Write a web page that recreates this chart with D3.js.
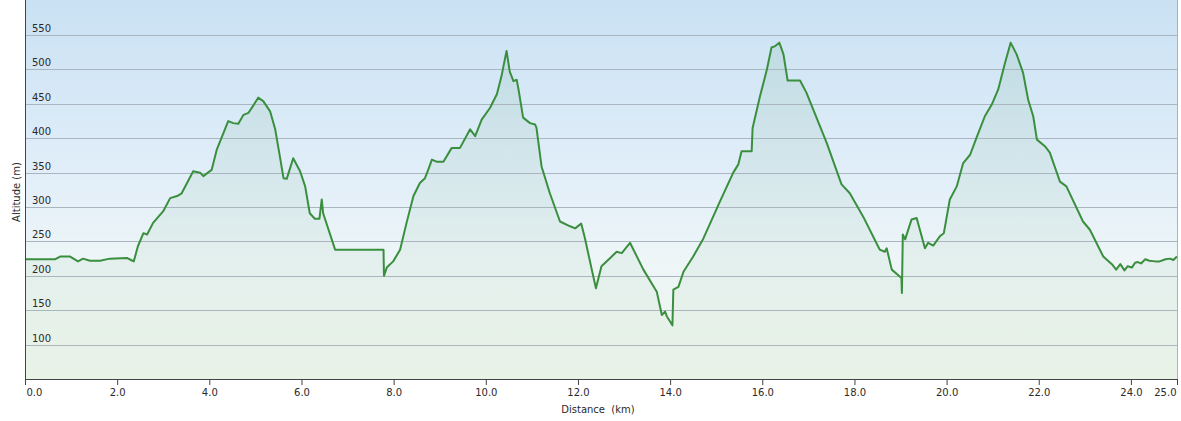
<!DOCTYPE html>
<html>
<head>
<meta charset="utf-8">
<script src="https://cdn.jsdelivr.net/npm/d3@7"></script>
<style>
  html, body { margin: 0; padding: 0; background: #ffffff; }
  svg { display: block; }
  text { font-family: "DejaVu Sans", Verdana, sans-serif; font-size: 10px; fill: #2a2a2a; }
</style>
</head>
<body>
<svg id="chart" width="1181" height="421"></svg>
<script>
// ---- data ----
const distKm = [
  0.00, 0.65, 0.76, 0.98, 1.15, 1.26, 1.41, 1.63, 1.84, 2.21, 2.30, 2.36,
  2.45, 2.57, 2.65, 2.78, 3.00, 3.15, 3.30, 3.40, 3.65, 3.80, 3.87, 4.05,
  4.16, 4.41, 4.52, 4.63, 4.74, 4.85, 4.95, 5.06, 5.17, 5.32, 5.43, 5.53,
  5.61, 5.68, 5.82, 5.97, 6.08, 6.18, 6.29, 6.39, 6.44, 6.47, 6.73, 7.78,
  7.79, 7.85, 7.99, 8.14, 8.28, 8.43, 8.57, 8.68, 8.75, 8.83, 8.93, 9.08,
  9.26, 9.44, 9.66, 9.77, 9.91, 10.09, 10.24, 10.34, 10.45, 10.52, 10.60, 10.67,
  10.71, 10.81, 10.96, 11.07, 11.10, 11.21, 11.39, 11.61, 11.83, 11.94, 12.07, 12.15,
  12.30, 12.39, 12.51, 12.70, 12.84, 12.95, 13.13, 13.42, 13.71, 13.82, 13.89, 13.93,
  14.05, 14.07, 14.18, 14.29, 14.50, 14.72, 15.08, 15.37, 15.48, 15.55, 15.77, 15.79,
  15.95, 16.10, 16.20, 16.28, 16.37, 16.46, 16.55, 16.82, 16.96, 17.40, 17.72, 17.90,
  18.19, 18.55, 18.66, 18.70, 18.81, 19.02, 19.03, 19.05, 19.10, 19.24, 19.35, 19.53,
  19.60, 19.71, 19.86, 19.94, 20.07, 20.22, 20.36, 20.51, 20.65, 20.83, 20.98, 21.12,
  21.27, 21.39, 21.52, 21.66, 21.77, 21.88, 21.96, 22.14, 22.24, 22.46, 22.60, 22.96,
  23.11, 23.40, 23.55, 23.60, 23.68, 23.77, 23.86, 23.93, 24.02, 24.09, 24.15, 24.22,
  24.31, 24.40, 24.53, 24.62, 24.75, 24.85, 24.92, 25.00
];
const altM = [
  224, 224, 228, 228, 221, 225, 222, 222, 225, 226, 223, 221,
  243, 262, 260, 277, 294, 313, 316, 320, 352, 350, 345, 354,
  383, 425, 422, 421, 434, 437, 447, 459, 454, 439, 413, 374,
  342, 341, 371, 352, 330, 291, 283, 283, 311, 291, 238, 238,
  200, 212, 221, 238, 277, 316, 335, 342, 354, 369, 366, 366,
  386, 386, 413, 403, 427, 444, 464, 490, 527, 497, 483, 485,
  471, 430, 422, 420, 415, 359, 320, 279, 272, 269, 276, 255,
  209, 182, 214, 226, 235, 233, 248, 209, 177, 143, 148, 141,
  128, 180, 184, 206, 228, 254, 308, 350, 362, 381, 381, 415,
  461, 500, 532, 534, 539, 522, 484, 484, 466, 393, 333, 320,
  286, 238, 235, 240, 209, 197, 175, 260, 253, 282, 284, 240,
  248, 244, 258, 262, 311, 330, 364, 376, 401, 432, 449, 471,
  510, 539, 522, 495, 456, 432, 398, 388, 379, 337, 330, 279,
  267, 228, 219, 216, 209, 217, 208, 214, 212, 219, 220, 218,
  224, 222, 221, 221, 224, 225, 223, 228
];
const yTicks = [100, 150, 200, 250, 300, 350, 400, 450, 500, 550];
const xTicks = [0, 2, 4, 6, 8, 10, 12, 14, 16, 18, 20, 22, 24, 25];
const xTitle = "Distance\u00a0\u00a0(km)";
const yTitle = "Altitude (m)";

// ---- layout ----
const svg = d3.select("#chart");
const padL = 25, padR = 1177, padT = 0, padB = 379;

const x = d3.scaleLinear().domain([0, 25]).range([padL, padR]);
const y = d3.scaleLinear().domain([50, 601]).range([padB, padT]);

const defs = svg.append("defs");
const bg = defs.append("linearGradient").attr("id", "bg")
  .attr("x1", 0).attr("y1", 0).attr("x2", 0).attr("y2", 1);
bg.append("stop").attr("offset", "0%").attr("stop-color", "#c9e1f3");
bg.append("stop").attr("offset", "45%").attr("stop-color", "#e1eef9");
bg.append("stop").attr("offset", "68%").attr("stop-color", "#edf5f7");
bg.append("stop").attr("offset", "100%").attr("stop-color", "#eff6ec");

const af = defs.append("linearGradient").attr("id", "af")
  .attr("gradientUnits", "userSpaceOnUse")
  .attr("x1", 0).attr("y1", y(540)).attr("x2", 0).attr("y2", padB);
af.append("stop").attr("offset", "0%").attr("stop-color", "#6aa884").attr("stop-opacity", 0.15);
af.append("stop").attr("offset", "100%").attr("stop-color", "#9cc89c").attr("stop-opacity", 0.07);

svg.append("rect").attr("x", padL).attr("y", padT)
  .attr("width", padR - padL).attr("height", padB - padT)
  .attr("fill", "url(#bg)");

const data = distKm.map((d, i) => ({ d, a: altM[i] }));

// area
svg.append("path").datum(data)
  .attr("fill", "url(#af)")
  .attr("d", d3.area().x(p => x(p.d)).y0(padB).y1(p => y(p.a)));

// grid lines
svg.append("g").selectAll("line").data(yTicks).join("line")
  .attr("x1", padL).attr("x2", padR)
  .attr("y1", d => Math.round(y(d)) + 0.5).attr("y2", d => Math.round(y(d)) + 0.5)
  .attr("stroke", "#a9b6bd").attr("stroke-width", 1);

// y tick labels (inside, above lines)
svg.append("g").selectAll("text").data(yTicks).join("text")
  .attr("x", padL + 7).attr("y", d => Math.round(y(d)) - 3)
  .text(d => d);

// line
svg.append("path").datum(data)
  .attr("fill", "none")
  .attr("stroke", "#3a8f3f").attr("stroke-width", 2)
  .attr("stroke-linejoin", "round")
  .attr("d", d3.line().x(p => x(p.d)).y(p => y(p.a)));

// right border
svg.append("line").attr("x1", padR + 0.5).attr("x2", padR + 0.5)
  .attr("y1", padT).attr("y2", padB).attr("stroke", "#a9b3ba");

// x axis
const xAxis = d3.axisBottom(x).tickValues(xTicks).tickSize(6).tickSizeOuter(0)
  .tickFormat(d3.format(".1f"));
const gx = svg.append("g").attr("transform", `translate(0,${padB})`).call(xAxis);
gx.select(".domain").attr("stroke", "#444");
gx.selectAll(".tick line").attr("stroke", "#444");
gx.selectAll(".tick text").attr("font-family", "DejaVu Sans, Verdana, sans-serif")
  .attr("font-size", 10).attr("fill", "#2a2a2a").attr("dy", null).attr("y", 17);
gx.selectAll(".tick text").filter(d => d === 0).attr("text-anchor", "start").attr("dx", 1);
gx.selectAll(".tick text").filter(d => d === 25).attr("text-anchor", "end").attr("dx", -1);

// y axis line
svg.append("line").attr("x1", padL + 0.5).attr("x2", padL + 0.5)
  .attr("y1", padT).attr("y2", padB).attr("stroke", "#444");

// titles
svg.append("text").attr("x", 598).attr("y", 413)
  .attr("text-anchor", "middle").text(xTitle);
svg.append("text").attr("transform", `translate(20,192) rotate(-90)`)
  .attr("text-anchor", "middle").text(yTitle);
</script>
</body>
</html>
